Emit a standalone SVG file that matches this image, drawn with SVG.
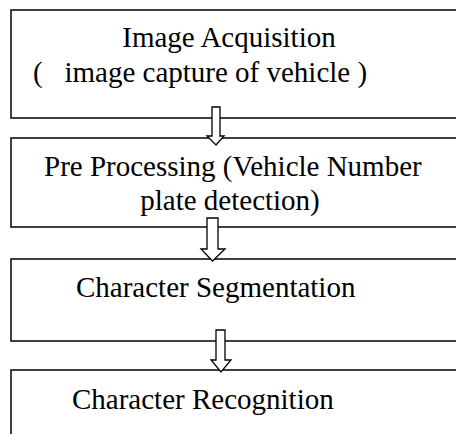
<svg xmlns="http://www.w3.org/2000/svg" width="456" height="434" viewBox="0 0 456 434">
<style>
.box{fill:#fff;stroke:#000;stroke-width:1.5}
.arr{fill:#fff;stroke:#000;stroke-width:1.3;stroke-linejoin:miter}
text{font-family:"Liberation Serif","Times New Roman",serif;font-size:29px;fill:#000;white-space:pre}
</style>
<rect width="456" height="434" fill="#fff"/>
<g id="node1"><rect class="box" x="11" y="10" width="470" height="108"/>
<text x="229" y="47" text-anchor="middle">Image Acquisition</text>
<text x="33" y="82" xml:space="preserve">(   image capture of vehicle )</text></g>
<g id="node2"><rect class="box" x="11" y="138" width="470" height="89"/>
<text x="44" y="176">Pre Processing (Vehicle Number</text>
<text x="230" y="210" text-anchor="middle">plate detection)</text></g>
<g id="node3"><rect class="box" x="11" y="259" width="470" height="82"/>
<text x="76" y="297">Character Segmentation</text></g>
<g id="node4"><rect class="box" x="11" y="370" width="470" height="80"/>
<text x="72" y="409">Character Recognition</text></g>
<g id="connectors">
<path class="arr" d="M212,107 H220 V136 H224 L216,145 L207,136 H212 Z"/>
<path class="arr" d="M207,218 H218 V249 H225 L212.5,261 L201,249 H207 Z"/>
<path class="arr" d="M216,330 H225 V360 H231 L221,372 L211,360 H216 Z"/>
</g>
</svg>
